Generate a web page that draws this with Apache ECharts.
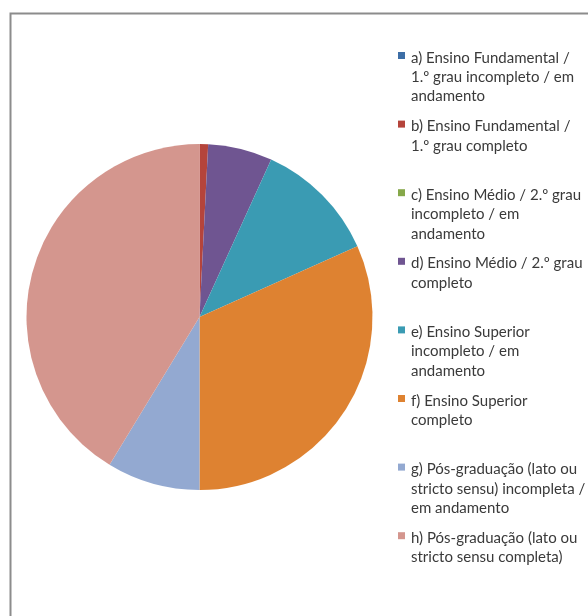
<!DOCTYPE html>
<html>
<head>
<meta charset="utf-8">
<script src="https://cdn.jsdelivr.net/npm/echarts@6/dist/echarts.min.js"></script>
<style>
  html, body { margin: 0; padding: 0; background: #fff; }
  #chart { width: 588px; height: 616px; }
</style>
</head>
<body>
<div id="chart"></div>
<script>
// Escolaridade: share of respondents by education level (%)
const categories = [
  'a) Ensino Fundamental /\n1.º grau incompleto / em\nandamento',
  'b) Ensino Fundamental /\n1.º grau completo',
  'c) Ensino Médio / 2.º grau\nincompleto / em\nandamento',
  'd) Ensino Médio / 2.º grau\ncompleto',
  'e) Ensino Superior\nincompleto / em\nandamento',
  'f) Ensino Superior\ncompleto',
  'g) Pós-graduação (lato ou\nstricto sensu) incompleta /\nem andamento',
  'h) Pós-graduação (lato ou\nstricto sensu completa)'
];
const values = [0, 0.8, 0, 6.0, 11.5, 31.7, 8.7, 41.3];
const colors = ['#3D6EA6', '#B5443B', '#86A84A', '#6F5591', '#3A9BB3', '#DE8231', '#93A9D1', '#D4968E'];

const chart = echarts.init(document.getElementById('chart'));

// Legend block: one swatch + wrapped label per category, evenly spaced rows
const legendLeft = 398, legendTop = 51, legendStep = 68.6, lineH = 19.4;
const legendGraphics = [];
categories.forEach((name, i) => {
  const y = legendTop + i * legendStep;
  legendGraphics.push({
    type: 'rect', left: legendLeft, top: y + 1,
    shape: { width: 7, height: 7 },
    style: { fill: colors[i] }, silent: true
  });
  legendGraphics.push({
    type: 'text', left: legendLeft + 13, top: y - 3,
    style: {
      text: name, fill: '#3a3a3a',
      font: '15px Lato', lineHeight: lineH
    }, silent: true
  });
});

chart.setOption({
  animation: false,
  backgroundColor: '#ffffff',
  graphic: [
    {
      type: 'rect', left: 8, top: 11,
      shape: { width: 600, height: 620 },
      style: { fill: 'none', stroke: '#8c8c8c', lineWidth: 2 }, silent: true
    },
    ...legendGraphics
  ],
  series: [{
    type: 'pie',
    center: [199.5, 317],
    radius: 173,
    startAngle: 90,
    clockwise: true,
    minAngle: 0,
    stillShowZeroSum: true,
    label: { show: false },
    labelLine: { show: false },
    itemStyle: { borderWidth: 0 },
    emphasis: { disabled: true },
    data: categories.map((name, i) => ({
      name, value: values[i], itemStyle: { color: colors[i] }
    }))
  }]
});
</script>
</body>
</html>
